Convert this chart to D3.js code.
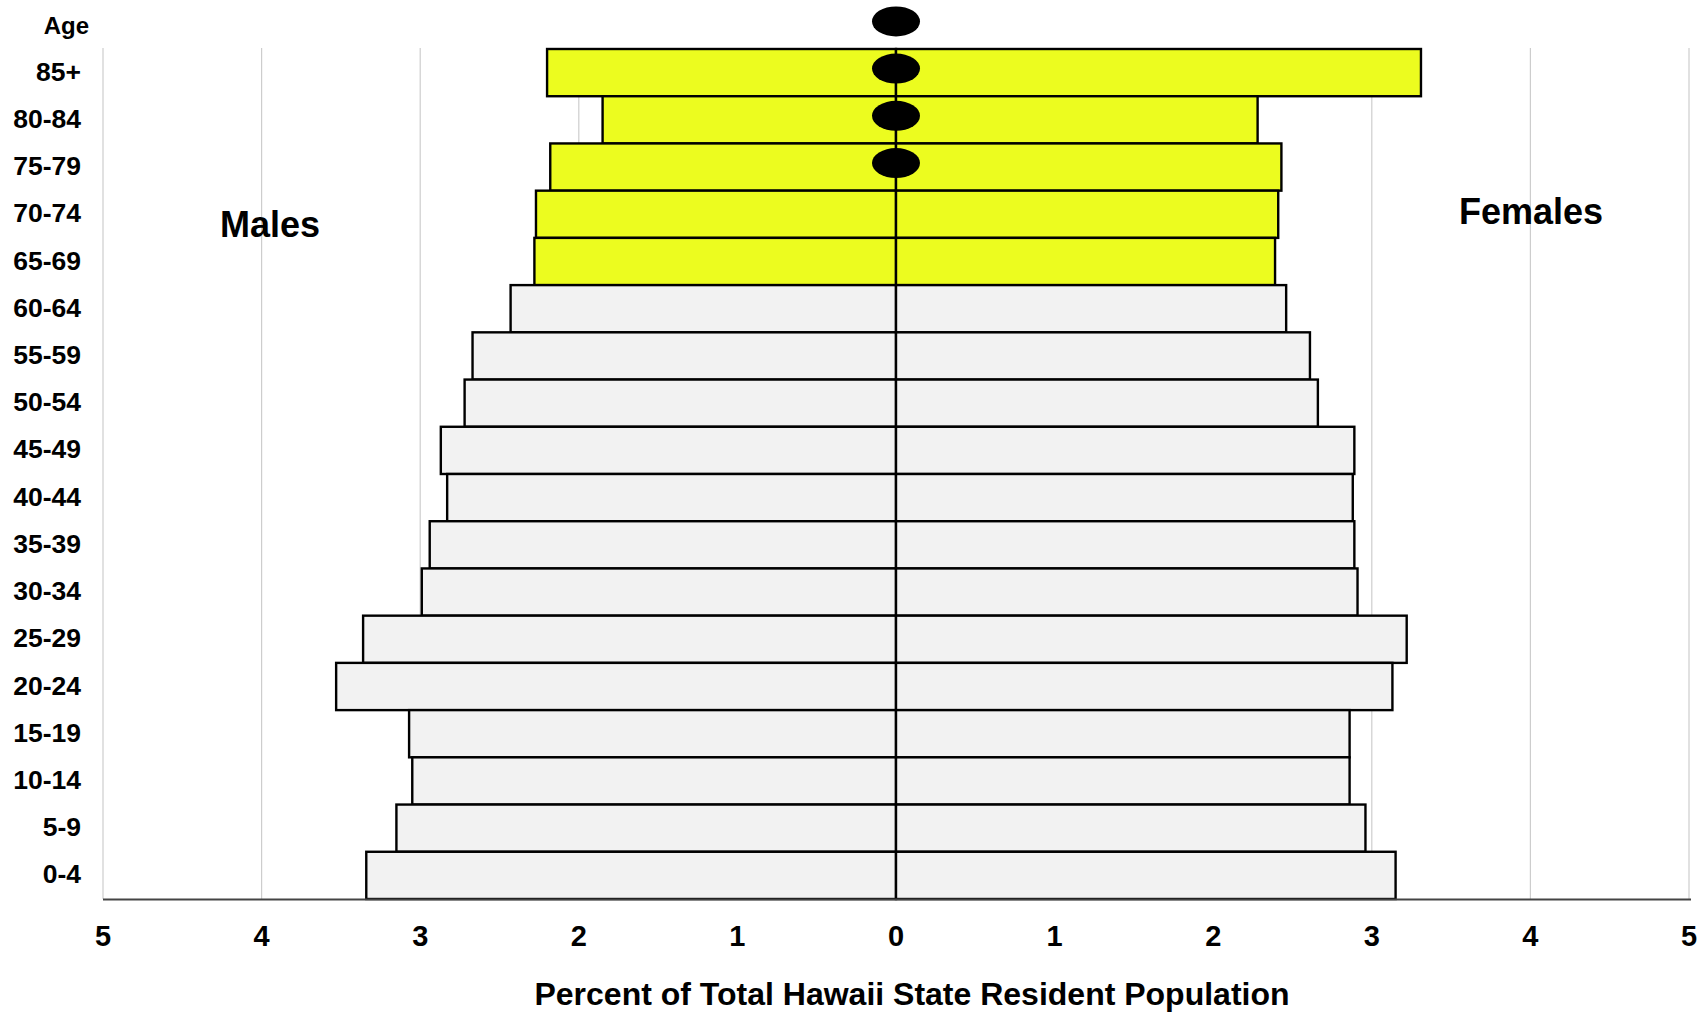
<!DOCTYPE html>
<html>
<head>
<meta charset="utf-8">
<script src="https://cdn.jsdelivr.net/npm/d3@7"></script>
<style>
  html, body { margin: 0; padding: 0; background: #fff; }
  svg { display: block; }
  text { font-family: "Liberation Sans", Arial, sans-serif; font-weight: bold; fill: #000; }
</style>
</head>
<body>
<svg id="chart" width="1700" height="1016"></svg>
<script>
// ---- data ----
const ageGroups = ["85+","80-84","75-79","70-74","65-69","60-64","55-59","50-54","45-49","40-44","35-39","30-34","25-29","20-24","15-19","10-14","5-9","0-4"];
const males   = [2.20, 1.85, 2.18, 2.27, 2.28, 2.43, 2.67, 2.72, 2.87, 2.83, 2.94, 2.99, 3.36, 3.53, 3.07, 3.05, 3.15, 3.34];
const females = [3.31, 2.28, 2.43, 2.41, 2.39, 2.46, 2.61, 2.66, 2.89, 2.88, 2.89, 2.91, 3.22, 3.13, 2.86, 2.86, 2.96, 3.15];
const seniorGroups = ["85+","80-84","75-79","70-74","65-69"];
const markerRows = ["Age","85+","80-84","75-79"];
const xTicks = [-5,-4,-3,-2,-1,0,1,2,3,4,5];
const xTitle = "Percent of Total Hawaii State Resident Population";

// ---- layout ----
const svg = d3.select("#chart");
const plotLeft = 103, plotRight = 1689, plotTop = 49, plotBottom = 899;
const rowH = (plotBottom - plotTop) / ageGroups.length;

const x = d3.scaleLinear().domain([-5, 5]).range([plotLeft, plotRight]);
const y = d3.scaleBand().domain(["Age"].concat(ageGroups)).range([plotTop - rowH, plotBottom]).padding(0);

// gridlines
svg.append("g").selectAll("line").data(xTicks.filter(d => d !== 0)).join("line")
  .attr("x1", d => x(d)).attr("x2", d => x(d))
  .attr("y1", plotTop - 1).attr("y2", plotBottom)
  .attr("stroke", "#cdcdcd").attr("stroke-width", 1.2);

const rows = ageGroups.map((g, i) => ({ g, m: males[i], f: females[i] }));
const fillOf = d => seniorGroups.includes(d.g) ? "#ecfc1f" : "#f2f2f2";

// male bars
svg.append("g").selectAll("rect").data(rows).join("rect")
  .attr("x", d => x(-d.m)).attr("width", d => x(0) - x(-d.m))
  .attr("y", d => y(d.g)).attr("height", y.bandwidth())
  .attr("fill", fillOf).attr("stroke", "#000").attr("stroke-width", 2.4);

// female bars
svg.append("g").selectAll("rect").data(rows).join("rect")
  .attr("x", x(0)).attr("width", d => x(d.f) - x(0))
  .attr("y", d => y(d.g)).attr("height", y.bandwidth())
  .attr("fill", fillOf).attr("stroke", "#000").attr("stroke-width", 2.4);

// center line
svg.append("line")
  .attr("x1", x(0)).attr("x2", x(0)).attr("y1", plotTop).attr("y2", plotBottom)
  .attr("stroke", "#000").attr("stroke-width", 2);

// bottom axis line
svg.append("line")
  .attr("x1", plotLeft).attr("x2", plotRight + 2).attr("y1", plotBottom + 0.5).attr("y2", plotBottom + 0.5)
  .attr("stroke", "#444").attr("stroke-width", 2);

// oval markers
svg.append("g").selectAll("ellipse").data(markerRows).join("ellipse")
  .attr("cx", x(0)).attr("cy", d => y(d) + y.bandwidth() / 2 - 4)
  .attr("rx", 24).attr("ry", 15).attr("fill", "#000");

// age labels
svg.append("g").selectAll("text").data(ageGroups).join("text")
  .attr("x", 81).attr("y", d => y(d) + y.bandwidth() / 2 - 1)
  .attr("text-anchor", "end").attr("dominant-baseline", "central")
  .style("font-size", "26.5px").text(d => d);

svg.append("text").attr("x", 89).attr("y", y("Age") + y.bandwidth() / 2)
  .attr("text-anchor", "end").attr("dominant-baseline", "central")
  .style("font-size", "24px").text("Age");

// x tick labels
svg.append("g").selectAll("text").data(xTicks).join("text")
  .attr("x", d => x(d)).attr("y", 946)
  .attr("text-anchor", "middle").style("font-size", "29px")
  .text(d => Math.abs(d));

// axis title
svg.append("text").attr("x", 912).attr("y", 1005)
  .attr("text-anchor", "middle").style("font-size", "32px").text(xTitle);

// side labels
svg.append("text").attr("x", 270).attr("y", 237)
  .attr("text-anchor", "middle").style("font-size", "36px").text("Males");
svg.append("text").attr("x", 1531).attr("y", 224)
  .attr("text-anchor", "middle").style("font-size", "36px").text("Females");
</script>
</body>
</html>
